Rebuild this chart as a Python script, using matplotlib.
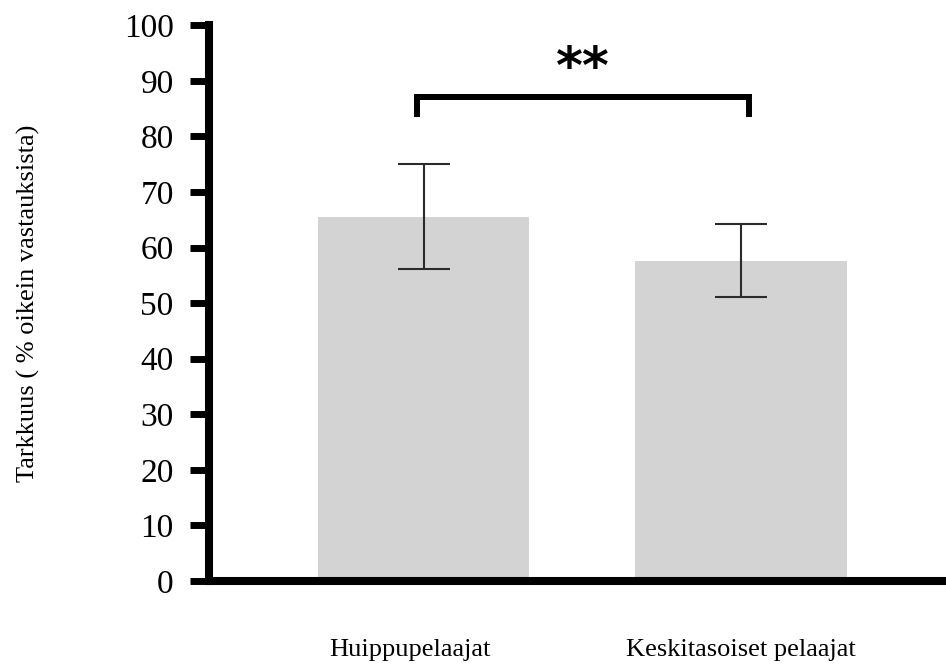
import matplotlib
matplotlib.use("Agg")
import matplotlib.pyplot as plt
from matplotlib.transforms import ScaledTranslation

# ======================== DATA ========================
groups = ["Huippupelaajat", "Keskitasoiset pelaajat"]
accuracy = [65.5, 57.6]
err_low = [56.1, 51.1]
err_high = [75.1, 64.3]
bracket_y = 87.1
bracket_leg = 83.5
signif = "**"
y_ticks = list(range(0, 101, 10))

plt.rcParams['font.family'] = ['Liberation Serif', 'DejaVu Serif']

fig = plt.figure(figsize=(9.46, 6.64), dpi=100)
ax = fig.add_axes([0.221, 0.125, 0.779, 0.837])

x = list(range(len(groups)))
yerr = [[a - lo for a, lo in zip(accuracy, err_low)],
        [hi - a for a, hi in zip(accuracy, err_high)]]

ax.bar(x, accuracy, width=0.665, color="#d3d3d3", zorder=1)
ax.errorbar(x, accuracy, yerr=yerr, fmt="none", ecolor="#2b2b2b",
            elinewidth=1.5, capsize=18.5, capthick=1.5, zorder=2)

# significance bracket
bx0, bx1 = -0.02, 1.025
ax.plot([bx0, bx0, bx1, bx1], [bracket_leg, bracket_y, bracket_y, bracket_leg],
        color="black", lw=4.3, solid_joinstyle="miter", solid_capstyle="butt",
        clip_on=False, zorder=3)
ax.text((bx0 + bx1) / 2, bracket_y + 0.6, signif, ha="center", va="bottom",
        fontsize=37, fontweight="bold", family="DejaVu Sans")

ax.set_xlim(-0.676, 1.646)
ax.set_ylim(0, 100)
ax.set_yticks(y_ticks)
ax.set_yticklabels([str(t) for t in y_ticks], fontsize=24)
ax.set_xticks(x)
ax.set_xticklabels(groups, fontsize=19)
ax.tick_params(axis="x", length=0, pad=42)
ax.tick_params(axis="y", length=13.5, width=5, direction="out", pad=12)

# first group label sits a little left of its bar
lbl = ax.get_xticklabels()[0]
lbl.set_transform(lbl.get_transform() + ScaledTranslation(-0.14, 0, fig.dpi_scale_trans))

for side in ["top", "right"]:
    ax.spines[side].set_visible(False)
for side in ["left", "bottom"]:
    ax.spines[side].set_linewidth(5.8)
    ax.spines[side].set_capstyle("projecting")

ax.set_ylabel("Tarkkuus ( % oikein vastauksista)", fontsize=19)
ax.yaxis.set_label_coords(-0.229, 0.5)

fig.savefig("out.png", dpi=100)
